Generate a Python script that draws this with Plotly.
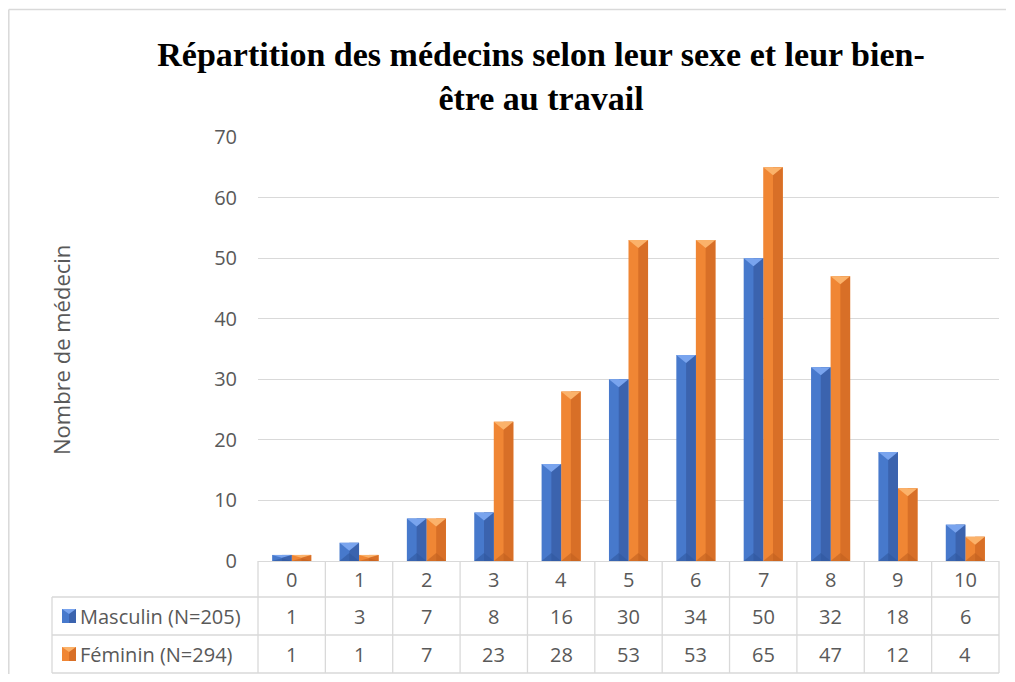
import plotly.graph_objects as go

# ---- data ----
categories = ["0", "1", "2", "3", "4", "5", "6", "7", "8", "9", "10"]
series_names = ["Masculin (N=205)", "Féminin (N=294)"]
masculin = [1, 3, 7, 8, 16, 30, 34, 50, 32, 18, 6]
feminin = [1, 1, 7, 23, 28, 53, 53, 65, 47, 12, 4]
y_ticks = [0, 10, 20, 30, 40, 50, 60, 70]
title_text = "Répartition des médecins selon leur sexe et leur bien-<br>être au travail"
y_title = "Nombre de médecin"

# ---- styling ----
# page body has an 8px margin: figure is placed at (8, 8) in the window
OFF = 8
FW, FH = 1015 - 2 * OFF, 682 - 2 * OFF
# target positions in window pixels
L, R, T, B = 258, 999, 137, 561
GRID = "#D9D9D9"
TXT = "#595959"
FONT = "Open Sans"

pal = [
    dict(main="#4779CC", right="#3B63AE", top="#79A4EE", bot="#30589E"),
    dict(main="#F08634", right="#D86F27", top="#FBB26A", bot="#C2611F"),
]
values = [masculin, feminin]

BARGAP = 0.42
bw = (1 - BARGAP) / 2


def px(xp):
    return (xp - L) / (R - L)


def py(yp):
    return (B - yp) / (B - T)


fig = go.Figure()
xs = list(range(len(categories)))
for s in range(2):
    fig.add_trace(go.Bar(
        x=xs, y=values[s], name=series_names[s],
        marker=dict(color=pal[s]["main"], line=dict(width=0)),
        offsetgroup=str(s), showlegend=False, hoverinfo="x+y",
    ))

shapes = []
units_per_px = (y_ticks[-1] - y_ticks[0]) / (B - T)
tri_h = 8 * units_per_px
for s in range(2):
    off = -bw / 2 if s == 0 else bw / 2
    for i, v in enumerate(values[s]):
        c = xs[i] + off
        hw = bw / 2
        th = min(tri_h, v * 0.45)
        shapes.append(dict(type="rect", xref="x", yref="y", x0=c, x1=c + hw, y0=0, y1=v,
                           fillcolor=pal[s]["right"], line=dict(width=0), layer="above"))
        shapes.append(dict(type="path", xref="x", yref="y",
                           path=f"M {c-hw},{v} L {c+hw},{v} L {c},{v-th} Z",
                           fillcolor=pal[s]["top"], line=dict(width=0), layer="above"))
        shapes.append(dict(type="path", xref="x", yref="y",
                           path=f"M {c-hw},0 L {c+hw},0 L {c},{th} Z",
                           fillcolor=pal[s]["bot"], line=dict(width=0), opacity=0.6, layer="above"))

# ---- data table below the plot ----
n = len(categories)
row_lines = [597, 635, 673]
leg_left = 52
line_style = dict(color=GRID, width=1.3)
for yl in row_lines:
    shapes.append(dict(type="line", xref="paper", yref="paper", x0=px(leg_left), x1=1,
                       y0=py(yl), y1=py(yl), line=line_style))
for k in range(n + 1):
    shapes.append(dict(type="line", xref="paper", yref="paper", x0=k / n, x1=k / n,
                       y0=0, y1=py(row_lines[-1]), line=line_style))
shapes.append(dict(type="line", xref="paper", yref="paper", x0=px(leg_left), x1=px(leg_left),
                   y0=py(row_lines[0]), y1=py(row_lines[-1]), line=line_style))

annotations = []
row_centers = [579, 616, 654]
TFS = 20
for k, cat in enumerate(categories):
    annotations.append(dict(xref="paper", yref="paper", x=(k + 0.5) / n, y=py(row_centers[0]),
                            text=cat, showarrow=False, font=dict(family=FONT, size=TFS, color=TXT),
                            xanchor="center", yanchor="middle"))
for s in range(2):
    yc = row_centers[s + 1]
    for k, v in enumerate(values[s]):
        annotations.append(dict(xref="paper", yref="paper", x=(k + 0.5) / n, y=py(yc),
                                text=str(v), showarrow=False, font=dict(family=FONT, size=TFS, color=TXT),
                                xanchor="center", yanchor="middle"))
    annotations.append(dict(xref="paper", yref="paper", x=px(78), y=py(yc),
                            text=series_names[s], showarrow=False,
                            font=dict(family=FONT, size=TFS, color=TXT),
                            xanchor="left", yanchor="middle"))
    x0, x1 = px(62), px(76)
    y0, y1 = py(yc + 7), py(yc - 7)
    shapes.append(dict(type="rect", xref="paper", yref="paper", x0=x0, x1=x1, y0=y0, y1=y1,
                       fillcolor=pal[s]["main"], line=dict(width=0)))
    shapes.append(dict(type="rect", xref="paper", yref="paper", x0=(x0 + x1) / 2, x1=x1, y0=y0, y1=y1,
                       fillcolor=pal[s]["right"], line=dict(width=0)))
    shapes.append(dict(type="path", xref="paper", yref="paper",
                       path=f"M {x0},{y1} L {x1},{y1} L {(x0+x1)/2},{py(yc-2)} Z",
                       fillcolor=pal[s]["top"], line=dict(width=0)))

annotations.append(dict(xref="paper", yref="paper", x=px(61), y=py(350), text=y_title,
                        textangle=-90, showarrow=False, font=dict(family=FONT, size=22, color=TXT),
                        xanchor="center", yanchor="middle"))

# outer frame: only left and top edges are visible in the window
frame = dict(color=GRID, width=1.5)
shapes.append(dict(type="line", xref="paper", yref="paper", x0=px(8.8), x1=px(8.8),
                   y0=py(9.5), y1=py(674), line=frame))
shapes.append(dict(type="line", xref="paper", yref="paper", x0=px(8.8), x1=px(1006),
                   y0=py(9.5), y1=py(9.5), line=frame))

fig.update_layout(
    width=FW, height=FH,
    margin=dict(l=L - OFF, r=FW - (R - OFF), t=T - OFF, b=FH - (B - OFF), autoexpand=False),
    paper_bgcolor="white", plot_bgcolor="white",
    barmode="group", bargap=BARGAP, bargroupgap=0,
    title=dict(text=title_text, x=(541 - OFF) / FW, xanchor="center",
               y=1 - (66 - OFF) / FH, yanchor="middle",
               font=dict(family="Liberation Serif", size=34, color="#000000", weight="bold")),
    xaxis=dict(range=[-0.5, n - 0.5], showticklabels=False, showgrid=False, zeroline=False,
               showline=False, fixedrange=True),
    yaxis=dict(range=[y_ticks[0], y_ticks[-1]], tickvals=y_ticks, showgrid=True, gridcolor=GRID,
               gridwidth=1.3, zeroline=True, zerolinecolor=GRID, zerolinewidth=1.3,
               tickfont=dict(family=FONT, size=20, color=TXT), ticklabelstandoff=20,
               showline=False),
    shapes=shapes, annotations=annotations,
)

fig.write_html("out.html")
